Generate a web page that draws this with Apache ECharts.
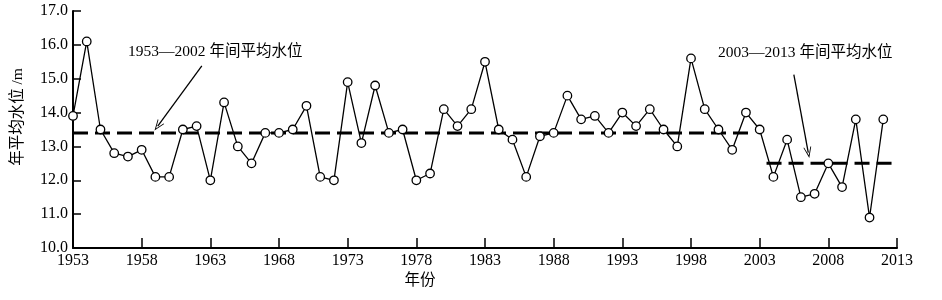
<!DOCTYPE html>
<html>
<head>
<meta charset="utf-8">
<script src="https://cdn.jsdelivr.net/npm/echarts@6/dist/echarts.min.js"></script>
<style>
html,body{margin:0;padding:0;background:#fff;}
#chart{width:942px;height:300px;}
</style>
</head>
<body>
<div id="chart"></div>
<script>
// ---- data ----
var BASE_YEAR = 1953;
var years = [1953,1954,1955,1956,1957,1958,1959,1960,1961,1962,
             1963,1964,1965,1966,1967,1968,1969,1970,1971,1972,
             1973,1974,1975,1976,1977,1978,1979,1980,1981,1982,
             1983,1984,1985,1986,1987,1988,1989,1990,1991,1992,
             1993,1994,1995,1996,1997,1998,1999,2000,2001,2002,
             2003,2004,2005,2006,2007,2008,2009,2010,2011,2012];
var waterLevel = [13.9,16.1,13.5,12.8,12.7,12.9,12.1,12.1,13.5,13.6,
                  12.0,14.3,13.0,12.5,13.4,13.4,13.5,14.2,12.1,12.0,
                  14.9,13.1,14.8,13.4,13.5,12.0,12.2,14.1,13.6,14.1,
                  15.5,13.5,13.2,12.1,13.3,13.4,14.5,13.8,13.9,13.4,
                  14.0,13.6,14.1,13.5,13.0,15.6,14.1,13.5,12.9,14.0,
                  13.5,12.1,13.2,11.5,11.6,12.5,11.8,13.8,10.9,13.8];
var xTickYears = [1953,1958,1963,1968,1973,1978,1983,1988,1993,1998,2003,2008,2013];
var yTicks = [10.0,11.0,12.0,13.0,14.0,15.0,16.0,17.0];
var meanEarlySpan = [1953, 2002.6];
var meanEarly = 13.4;
var meanLateSpan = [2003.5, 2013];
var meanLate = 12.5;
var arrowEarly = [[1962.38, 15.38], [1959.17, 13.60]];
var arrowLate = [[2005.49, 15.12], [2006.54, 12.82]];
var labelEarly = '1953\u20142002 年间平均水位';
var labelLate = '2003\u20142013 年间平均水位';
var yName = '年平均水位 /m';
var xName = '年份';

// ---- build ----
function off(y){ return y - BASE_YEAR; }
var lineData = years.map(function(y,i){ return [off(y), waterLevel[i]]; });
var FONT = '"Liberation Serif","Times New Roman","Noto Sans CJK SC",serif';
var vHead = 'path://M5,0L10,10L8.9,10L5,2.4L1.1,10L0,10Z';

var chart = echarts.init(document.getElementById('chart'), null, {renderer:'canvas'});
chart.setOption({
  animation: false,
  backgroundColor: '#fff',
  grid: {left: 73, right: 45, top: 11, bottom: 52, containLabel: false},
  xAxis: {
    type: 'value',
    min: 0, max: off(xTickYears[xTickYears.length-1]), interval: 5,
    axisLine: {lineStyle: {color: '#000', width: 2}},
    axisTick: {inside: true, length: 10, lineStyle: {color: '#000', width: 1.5}},
    splitLine: {show: false},
    axisLabel: {color: '#000', fontFamily: FONT, fontSize: 16, margin: 5,
      formatter: function(v){ return String(v + BASE_YEAR); }}
  },
  yAxis: {
    type: 'value',
    min: yTicks[0], max: yTicks[yTicks.length-1], interval: 1,
    axisLine: {show: true, lineStyle: {color: '#000', width: 2}},
    axisTick: {show: true, inside: true, length: 8, lineStyle: {color: '#000', width: 1.5}},
    splitLine: {show: false},
    axisLabel: {color: '#000', fontFamily: FONT, fontSize: 16, margin: 5,
      formatter: function(v){ return v.toFixed(1); }}
  },
  graphic: [
    {type: 'text', x: 18, y: 117, rotation: Math.PI/2,
     style: {text: yName, fill: '#000', font: '15.5px ' + FONT, align: 'center', verticalAlign: 'middle'}},
    {type: 'text', x: 420, y: 281,
     style: {text: xName, fill: '#000', font: '15.5px ' + FONT, align: 'center', verticalAlign: 'middle'}},
    {type: 'text', x: 128, y: 52,
     style: {text: labelEarly, fill: '#000', font: '15.5px ' + FONT, align: 'left', verticalAlign: 'middle'}},
    {type: 'text', x: 718, y: 53,
     style: {text: labelLate, fill: '#000', font: '15.5px ' + FONT, align: 'left', verticalAlign: 'middle'}}
  ],
  series: [
    {
      type: 'line', z: 2, silent: true,
      data: [[off(meanEarlySpan[0]), meanEarly], [off(meanEarlySpan[1]), meanEarly]],
      symbol: 'none',
      lineStyle: {color: '#000', width: 3, type: [15, 7]},
      markLine: {
        silent: true, symbol: ['none', vHead], symbolSize: [8, 11],
        label: {show: false},
        lineStyle: {color: '#000', width: 1.3, type: 'solid'},
        data: [
          [{coord: [off(arrowEarly[0][0]), arrowEarly[0][1]]}, {coord: [off(arrowEarly[1][0]), arrowEarly[1][1]]}],
          [{coord: [off(arrowLate[0][0]), arrowLate[0][1]]}, {coord: [off(arrowLate[1][0]), arrowLate[1][1]]}]
        ]
      }
    },
    {
      type: 'line', z: 2, silent: true,
      data: [[off(meanLateSpan[0]), meanLate], [off(meanLateSpan[1]), meanLate]],
      symbol: 'none',
      lineStyle: {color: '#000', width: 3, type: [15, 7]}
    },
    {
      type: 'line', z: 3,
      data: lineData,
      symbol: 'circle', symbolSize: 8.5, showAllSymbol: true,
      itemStyle: {color: '#fff', borderColor: '#000', borderWidth: 1.3},
      lineStyle: {color: '#000', width: 1.3}
    }
  ]
});
</script>
</body>
</html>
